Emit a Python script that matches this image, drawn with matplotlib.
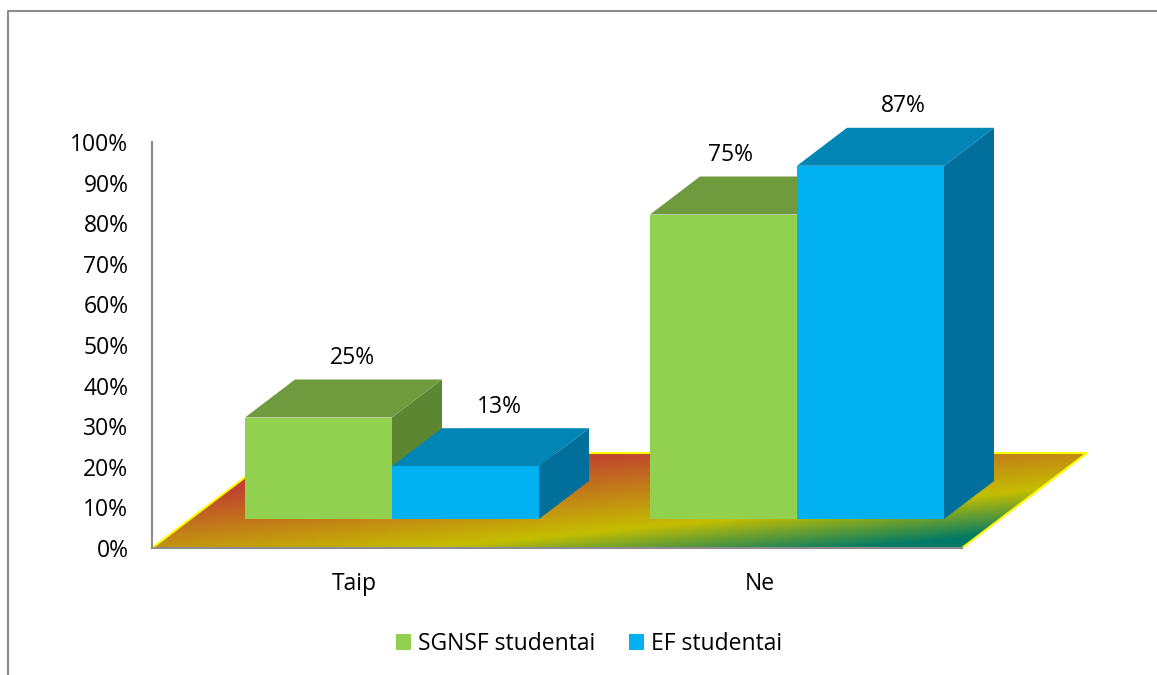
#3d looking bar chart, faked with polygons on a flat axes
import numpy as np
import matplotlib
matplotlib.use('Agg')
import matplotlib.pyplot as plt
from matplotlib.colors import LinearSegmentedColormap
from matplotlib.lines import Line2D
from matplotlib.patches import Patch, Polygon

plt.rcParams['font.family'] = ['Open Sans', 'DejaVu Sans']

categories = ['Taip', 'Ne']
series_names = ['SGNSF studentai', 'EF studentai']
sgnsf = [25, 75]
ef = [13, 87]
y_ticks = [0, 10, 20, 30, 40, 50, 60, 70, 80, 90, 100]

W, H = 1157, 675
FS = 16.5
fig = plt.figure(figsize=(W / 100, H / 100), dpi=100)
ax = fig.add_axes([152 / W, 1 - 548 / H, 810 / W, 406 / H])
ax.set_xlim(0, 2)
ax.set_ylim(0, 100)

# one category = 405 px, 1% = 4.06 px
px_x = 1 / 405
px_y = 1 / 4.06
floor_dx, floor_dy = 125 * px_x, 95 * px_y
depth_dx, depth_dy = 50 * px_x, 38 * px_y
lift = 29 * px_y
bar_w = 147 * px_x
bar_start = 93 * px_x

# floor with the gradient
floor_pts = [(0, 0), (2, 0), (2 + floor_dx, floor_dy), (floor_dx, floor_dy)]
floor_cmap = LinearSegmentedColormap.from_list('floor', [(0, '#C0432F'), (77 / 118, '#C4BE00'), (1, '#007A66')])
gx, gy = np.meshgrid(np.linspace(0, 2 + floor_dx, 500), np.linspace(0, floor_dy, 200))
t = ((548 - gy / px_y) + 0.095 * (152 + gx / px_x) - 512) / 118
im = ax.imshow(np.clip(t, 0, 1), origin='lower', extent=(0, 2 + floor_dx, 0, floor_dy), cmap=floor_cmap,
               vmin=0, vmax=1, aspect='auto', zorder=1, interpolation='bilinear')
clip = Polygon(floor_pts, transform=ax.transData, fc='none', ec='none', clip_on=False)
ax.add_patch(clip)
im.set_clip_box(fig.bbox)
im.set_clip_path(clip)
ax.set_xlim(0, 2)
ax.set_ylim(0, 100)
ax.plot([0, floor_dx, 2 + floor_dx, 2], [0, floor_dy, floor_dy, 0], color='#FFFF00', lw=1.5, zorder=1.5, clip_on=False)


def box(x, value, front, top, side, z):
    b = lift
    v = lift + value
    ax.add_patch(Polygon([(x + bar_w, b), (x + bar_w + depth_dx, b + depth_dy), (x + bar_w + depth_dx, v + depth_dy), (x + bar_w, v)],
                         fc=side, ec='none', zorder=z, clip_on=False))
    ax.add_patch(Polygon([(x, v), (x + bar_w, v), (x + bar_w + depth_dx, v + depth_dy), (x + depth_dx, v + depth_dy)],
                         fc=top, ec='none', zorder=z, clip_on=False))
    ax.add_patch(Polygon([(x, b), (x + bar_w, b), (x + bar_w, v), (x, v)],
                         fc=front, ec='none', zorder=z + 0.1, clip_on=False))


label_dx = [[34, 7], [34, 33]]
for i in range(len(categories)):
    x0 = i + bar_start
    box(x0, sgnsf[i], '#92D050', '#6F9A3E', '#5D8633', 3)
    box(x0 + bar_w, ef[i], '#00B0F0', '#0085B5', '#006F9C', 4)
    for j, vals in enumerate([sgnsf, ef]):
        xc = x0 + bar_w * (j + 0.5)
        ax.annotate(f'{vals[i]}%', (xc, lift + vals[i] + depth_dy), xytext=(label_dx[j][i] * 0.72, 15.5),
                    textcoords='offset points', ha='center', va='center', fontsize=FS, color='black',
                    annotation_clip=False, zorder=6)

# axes
for s in ['top', 'right']:
    ax.spines[s].set_visible(False)
for s in ['left', 'bottom']:
    ax.spines[s].set_color('#8C8C8C')
    ax.spines[s].set_linewidth(1.5)
    ax.spines[s].set_zorder(2)
ax.set_yticks(y_ticks)
ax.set_yticklabels([f'{v}%' for v in y_ticks], fontsize=FS)
ax.set_xticks([0.5, 1.5])
ax.set_xticklabels(categories, fontsize=FS)
ax.tick_params(axis='both', length=0)
ax.tick_params(axis='y', pad=17)
ax.tick_params(axis='x', pad=17)

handles = [Patch(fc='#92D050', ec='none'), Patch(fc='#00B0F0', ec='none')]
fig.legend(handles, series_names, ncol=2, frameon=False, fontsize=FS, loc='center',
           bbox_to_anchor=(589 / W, 1 - 644 / H), handlelength=0.65, handleheight=0.65,
           handletextpad=0.3, columnspacing=1.5)

# chart frame, only left and top show
fig.add_artist(Line2D([8 / W, 8 / W, 1], [0, 1 - 11 / H, 1 - 11 / H], color='#8C8C8C', lw=1.5))

fig.savefig('out.png', dpi=100)
